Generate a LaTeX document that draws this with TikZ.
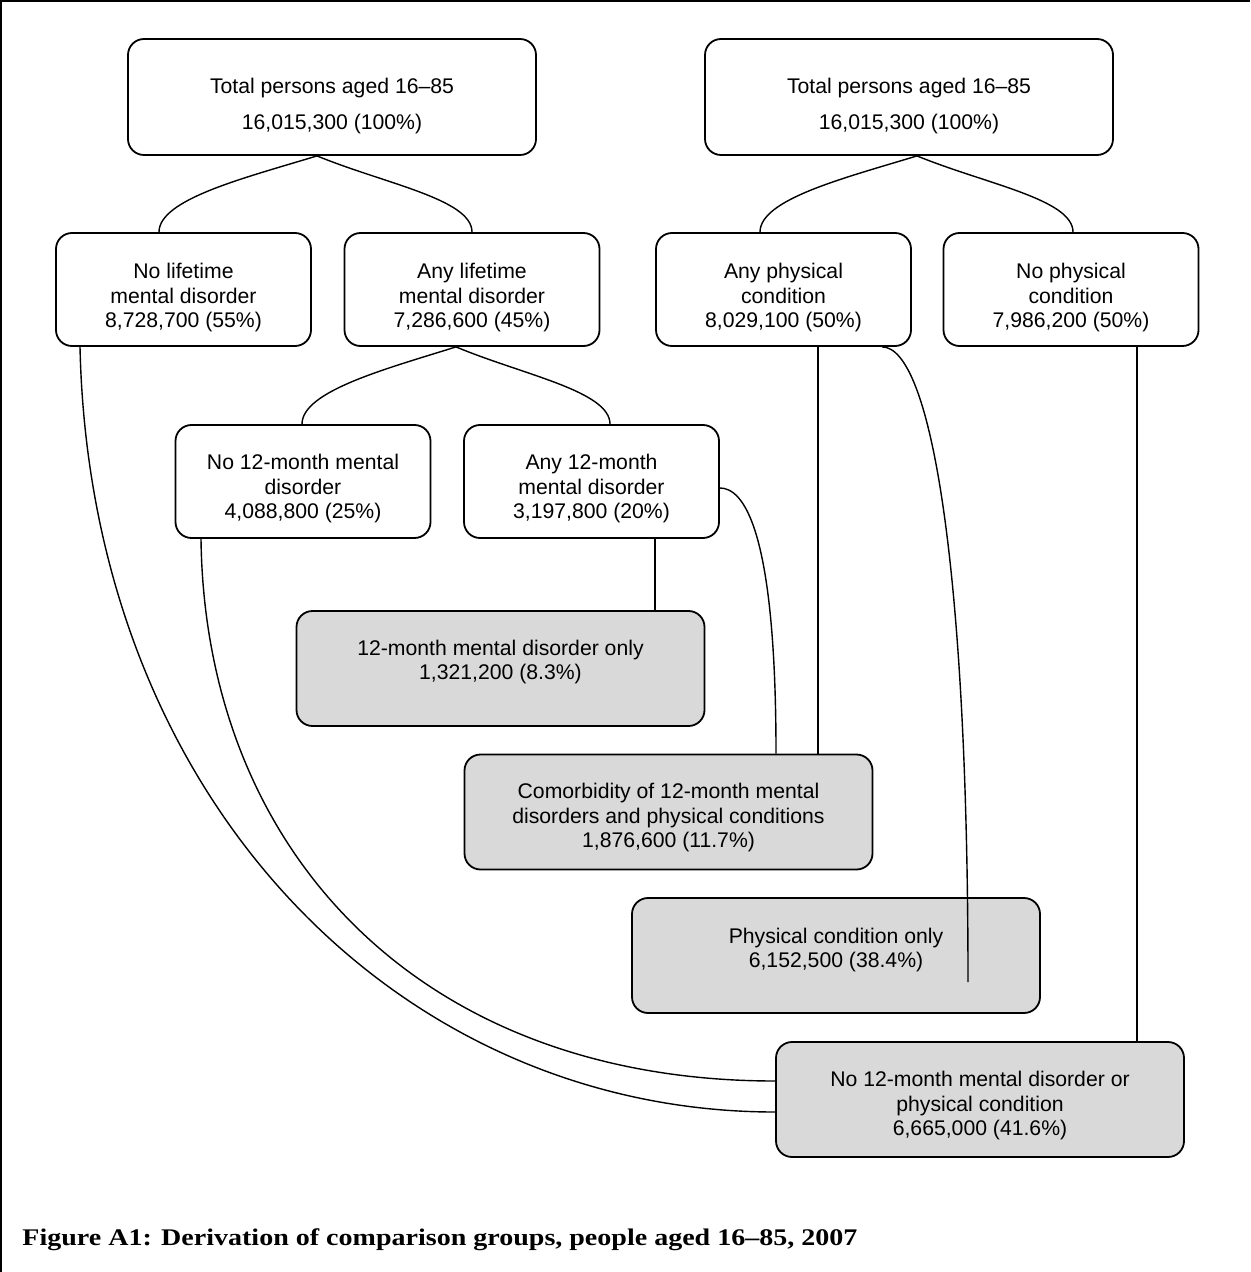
\documentclass[tikz,border=0pt]{standalone}
\usepackage{fontspec}
\setmainfont{Liberation Sans}
\newfontfamily\capfont{Liberation Serif}
\usepackage{graphicx}
\definecolor{boxgray}{RGB}{217,217,217}
\tikzset{
  box/.style={draw, line width=0.9pt, rounded corners=8pt, inner sep=0pt},
  whitebox/.style={box, fill=white},
  topbox/.style={whitebox, minimum width=204pt, minimum height=58pt},
  midbox/.style={whitebox, minimum width=127.5pt, minimum height=56.5pt},
  graybox/.style={box, fill=boxgray, minimum width=204pt, minimum height=57.5pt},
  txt/.style={font=\fontsize{10.6}{12.25}\selectfont, align=center, inner sep=0pt},
  toptxt/.style={font=\fontsize{10.6}{18}\selectfont, align=center, inner sep=0pt},
  conn/.style={line width=0.7pt}
}
\begin{document}
\begin{tikzpicture}[x=0.5pt,y=-0.5pt]
\useasboundingbox (0,0) rectangle (1250,1272);
\draw[line width=1.2pt] (1.2,1272) -- (1.2,1.2) -- (1250,1.2);

% boxes
\node[topbox] (top1) at (332,97) {};
\node[topbox] (top2) at (909,97) {};
\node[midbox] (nolife) at (183.5,289.5) {};
\node[midbox] (anylife) at (472,289.5) {};
\node[midbox] (anyphys) at (783.5,289.5) {};
\node[midbox] (nophys) at (1071,289.5) {};
\node[midbox] (no12) at (303,481.5) {};
\node[midbox] (any12) at (591.5,481.5) {};
\node[graybox] (g1) at (500.5,668.5) {};
\node[graybox] (g2) at (668.5,812) {};
\node[graybox] (g3) at (836,955.5) {};
\node[graybox] (g4) at (980,1099.5) {};

% texts
\node[toptxt] (top1t) at (332,106) {Total persons aged 16–85\\16,015,300 (100\%)};
\node[toptxt] (top2t) at (909,106) {Total persons aged 16–85\\16,015,300 (100\%)};
\node[txt] (nolifet) at (183.5,298) {No lifetime\\mental disorder\\8,728,700 (55\%)};
\node[txt] (anylifet) at (472,298) {Any lifetime\\mental disorder\\7,286,600 (45\%)};
\node[txt] (anyphyst) at (783.5,298) {Any physical\\condition\\8,029,100 (50\%)};
\node[txt] (nophyst) at (1071,298) {No physical\\condition\\7,986,200 (50\%)};
\node[txt] (no12t) at (303,489) {No 12-month mental\\disorder\\4,088,800 (25\%)};
\node[txt] (any12t) at (591.5,489) {Any 12-month\\mental disorder\\3,197,800 (20\%)};
\node[txt] (g1t) at (500.5,662) {12-month mental disorder only\\1,321,200 (8.3\%)};
\node[txt] (g2t) at (668.5,818) {Comorbidity of 12-month mental\\disorders and physical conditions\\1,876,600 (11.7\%)};
\node[txt] (g3t) at (836,950) {Physical condition only\\6,152,500 (38.4\%)};
\node[txt] (g4t) at (980,1106) {No 12-month mental disorder or\\physical condition\\6,665,000 (41.6\%)};

% tree connectors
\draw[conn] ([xshift=-7.5pt]top1.south) .. controls +(-72,22) and +(0,-33) .. ([xshift=-12.25pt]nolife.north);
\draw[conn] ([xshift=-7.5pt]top1.south) .. controls +(68,28) and +(0,-33) .. (anylife.north);
\draw[conn] ([xshift=4pt]top2.south) .. controls +(-72,22) and +(0,-33) .. ([xshift=-11.75pt]anyphys.north);
\draw[conn] ([xshift=4pt]top2.south) .. controls +(68,28) and +(0,-33) .. ([xshift=1pt]nophys.north);
\draw[conn] ([xshift=-8pt]anylife.south) .. controls +(-70,22) and +(0,-33) .. ([xshift=-0.5pt]no12.north);
\draw[conn] ([xshift=-8pt]anylife.south) .. controls +(67,28) and +(0,-33) .. ([xshift=9.25pt]any12.north);

% other connectors
\coordinate (a12s) at ([xshift=31.75pt]any12.south);
\draw[conn] (a12s) -- (a12s |- g1.north);
\coordinate (a12e) at ([yshift=-3.25pt]any12.east);
\coordinate (g2in) at ([xshift=53.75pt]g2.north);
\draw[conn] (a12e) .. controls +(22,0) and +(0,-230) .. (g2in);
\coordinate (aps1) at ([xshift=17.25pt]anyphys.south);
\draw[conn] (aps1) -- (aps1 |- g2.north);
\coordinate (aps2) at ([xshift=49.25pt]anyphys.south);
\coordinate (g3end) at ([xshift=66pt,yshift=-13.25pt]g3.center);
\draw[conn] (aps2) .. controls +(48,0) and +(0,-422) .. (g3end);
\coordinate (nps) at ([xshift=33pt]nophys.south);
\draw[conn] (nps) -- (nps |- g4.north);
\draw[conn] ([xshift=-51.75pt]nolife.south) .. controls +(10,454) and +(-376,0) .. ([yshift=-6.25pt]g4.west);
\draw[conn] ([xshift=-51pt]no12.south) .. controls +(4,312) and +(-356,0) .. ([yshift=9.25pt]g4.west);

% caption
\node[anchor=base west, inner sep=0pt] (cap) at (22,1245) {\resizebox{417.5pt}{8.4pt}{\capfont\bfseries Figure A1: Derivation of comparison groups, people aged 16–85, 2007}};
\end{tikzpicture}
\end{document}
